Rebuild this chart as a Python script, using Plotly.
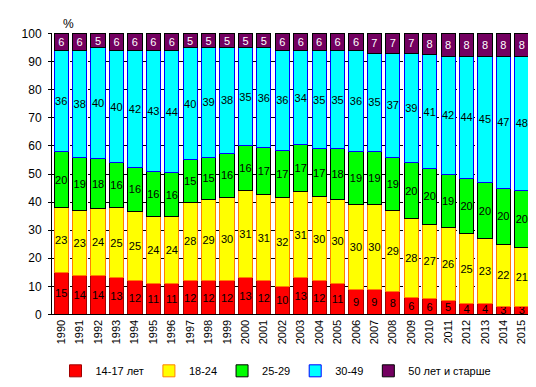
import plotly.graph_objects as go

years = [str(y) for y in range(1990, 2016)]
# values (labels are the rounded values)
age_14_17 = [15,14,14,13,12,11,11,12,12,12,13,12,10,13,12,11,9,9,8,6,5.6,5,4,4,3,3]
age_18_24 = [23,23,23.7,25,24.7,24,23.7,28,29,29.7,31,30.7,31.7,30.7,30,30,30,30,29,28,26.6,26,24.7,23,22,21]
age_25_29 = [20,19,17.7,16,15.7,16,15.7,15,15,15.7,16,16.7,16.7,16.7,17,18,19,19,19,20,19.6,19,19.7,20,20,20]
age_30_49 = [36,38,39.6,40,41.6,43,43.6,40,39,37.6,35,35.6,35.6,33.6,35,35,36,35,37,39,40.6,42,43.6,45,47,48]
age_50_plus = [6,6,5,6,6,6,6,5,5,5,5,5,6,6,6,6,6,7,7,7,7.6,8,8,8,8,8]

series = [
    ("14-17 лет", age_14_17, "#FF0000", "#A00000", "black"),
    ("18-24", age_18_24, "#FFFF00", "#FF8000", "black"),
    ("25-29", age_25_29, "#00FF00", "#000000", "black"),
    ("30-49", age_30_49, "#00FFFF", "#0000FF", "black"),
    ("50 лет и старше", age_50_plus, "#730060", "#000000", "white"),
]

fig = go.Figure()
for name, vals, fill, edge, tcol in series:
    fig.add_trace(go.Bar(
        x=years, y=vals, name=name,
        marker=dict(color=fill, line=dict(color=edge, width=1)),
        text=[f"{v:.0f}" for v in vals], textposition="inside",
        insidetextanchor="middle", textangle=0, constraintext="none",
        textfont=dict(color=tcol, size=11, family="Liberation Sans, Arial"),
    ))

fig.update_layout(
    barmode="stack", bargap=0.23,
    width=536, height=387,
    margin=dict(l=44, r=13, t=25, b=68),
    plot_bgcolor="white", paper_bgcolor="white",
    font=dict(family="Liberation Sans, Arial", size=11, color="black"),
    showlegend=True,
    legend=dict(orientation="h", x=0.5, xref="container", xanchor="center",
                y=0.025, yref="container", yanchor="bottom",
                font=dict(size=11), itemwidth=30, tracegroupgap=0,
                traceorder="normal"),
)
fig.add_annotation(text="%", xref="paper", yref="paper", x=0.035, y=1.0,
                   yanchor="bottom", xanchor="center", showarrow=False,
                   font=dict(size=12))

fig.update_yaxes(range=[0, 100.2], tickvals=list(range(0, 101, 10)),
                 showline=True, linecolor="black",
                 ticks="outside", ticklen=3, tickcolor="black",
                 showgrid=True, gridcolor="black", griddash="dash", gridwidth=1,
                 zeroline=False, ticklabelstandoff=4, tickfont=dict(size=12))
fig.update_xaxes(showline=True, linecolor="black", tickangle=-90, ticks="",
                 type="category")

fig.write_html("out.html")
